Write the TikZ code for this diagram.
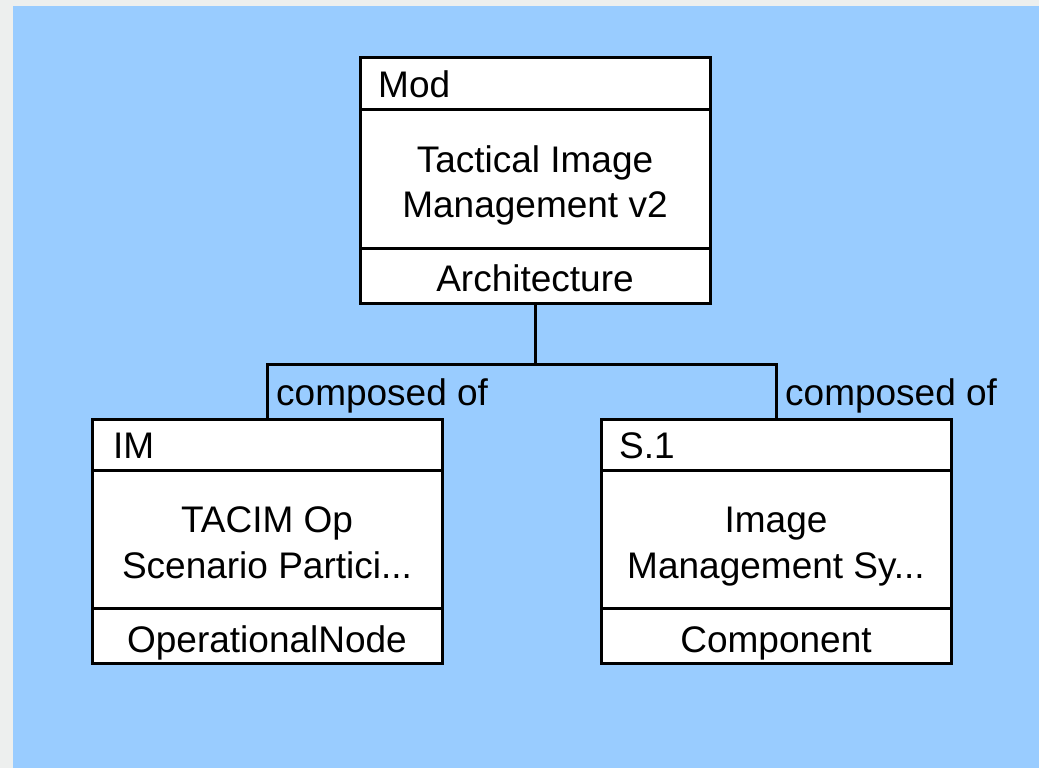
\documentclass[tikz,border=0pt]{standalone}
\usepackage{fontspec}
\setmainfont{Liberation Sans}
\definecolor{bgblue}{HTML}{99CCFF}
\definecolor{bggray}{HTML}{EDEFEE}
\begin{document}
\begin{tikzpicture}[x=1pt,y=-1pt,
  box/.style={draw=black,fill=white,line width=3pt,rectangle,inner sep=0pt},
  txt/.style={font=\fontsize{37}{45}\selectfont,inner sep=0pt,anchor=base},
  link/.style={draw=black,line width=3pt}]
\useasboundingbox (0,0) rectangle (1039,768);
\fill[bggray] (0,0) rectangle (1039,768);
\fill[bgblue] (13,6) rectangle (1039,768);
% top box
\node[box,minimum width=350pt,minimum height=245pt] (top) at (535,180.5) {};
\draw[line width=3pt] (360,109) -- (710,109);
\draw[line width=3pt] (360,248) -- (710,248);
\node[txt,anchor=base west] (topid) at (378,97) {Mod};
\node[txt] (topn1) at (535,172) {Tactical Image};
\node[txt] (topn2) at (535,217) {Management v2};
\node[txt] (topt) at (535,291) {Architecture};
% left box
\node[box,minimum width=350pt,minimum height=244pt] (lbox) at (267,541) {};
\draw[line width=3pt] (92,470) -- (442,470);
\draw[line width=3pt] (92,608) -- (442,608);
\node[txt,anchor=base west] (lid) at (113,458) {IM};
\node[txt] (ln1) at (267,532) {TACIM Op};
\node[txt] (ln2) at (267,578) {Scenario Partici...};
\node[txt] (lt) at (267,652) {OperationalNode};
% right box
\node[box,minimum width=350pt,minimum height=244pt] (rbox) at (776,541) {};
\draw[line width=3pt] (601,470) -- (951,470);
\draw[line width=3pt] (601,608) -- (951,608);
\node[txt,anchor=base west] (rid) at (619,458) {S.1};
\node[txt] (rn1) at (776,532) {Image};
\node[txt] (rn2) at (776,578) {Management Sy...};
\node[txt] (rt) at (776,652) {Component};
% connectors
\coordinate (bus) at (535,364);
\draw[link] (top.south) -- (bus);
\draw[link] (lbox.north) |- (bus) -| (rbox.north);
\node[txt,anchor=base west] (lab1) at (276,405) {composed of};
\node[txt,anchor=base west] (lab2) at (785,405) {composed of};
\end{tikzpicture}
\end{document}
